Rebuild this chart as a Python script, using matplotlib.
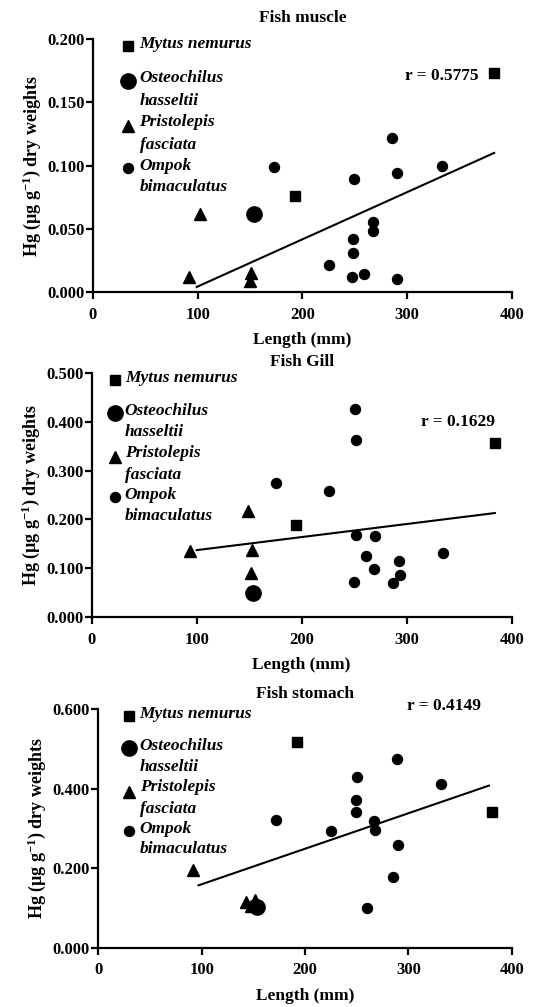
import matplotlib
matplotlib.use('Agg')
import matplotlib.pyplot as plt

plt.rcParams['font.family'] = ['Liberation Serif', 'DejaVu Serif']
plt.rcParams['font.weight'] = 'bold'
plt.rcParams['mathtext.fontset'] = 'custom'
plt.rcParams['mathtext.rm'] = 'Liberation Serif:bold'
plt.rcParams['mathtext.it'] = 'Liberation Serif:italic:bold'
plt.rcParams['mathtext.bf'] = 'Liberation Serif:bold'

# ---- data ----
species = [['Mytus nemurus'], ['Osteochilus', 'hasseltii'],
           ['Pristolepis', 'fasciata'], ['Ompok', 'bimaculatus']]

# Fish muscle
muscle_mytus_x = [383, 193]
muscle_mytus_y = [0.173, 0.076]
muscle_osteo_x = [154]
muscle_osteo_y = [0.062]
muscle_prist_x = [102, 92, 151, 150]
muscle_prist_y = [0.062, 0.012, 0.015, 0.009]
muscle_ompok_x = [173, 249, 285, 290, 333, 267, 267, 248, 248, 225, 259, 247, 290]
muscle_ompok_y = [0.099, 0.089, 0.122, 0.094, 0.100, 0.055, 0.048, 0.042, 0.031, 0.021, 0.014, 0.012, 0.010]
muscle_fit_x = [99, 383]
muscle_fit_y = [0.004, 0.110]

# Fish gill
gill_mytus_x = [384, 195]
gill_mytus_y = [0.357, 0.189]
gill_osteo_x = [154]
gill_osteo_y = [0.049]
gill_prist_x = [94, 149, 153, 152]
gill_prist_y = [0.135, 0.217, 0.137, 0.091]
gill_ompok_x = [251, 252, 176, 226, 252, 270, 261, 269, 293, 294, 287, 250, 335]
gill_ompok_y = [0.427, 0.363, 0.275, 0.259, 0.169, 0.165, 0.126, 0.098, 0.115, 0.086, 0.069, 0.072, 0.132]
gill_fit_x = [100, 384]
gill_fit_y = [0.137, 0.213]

# Fish stomach
stomach_mytus_x = [192, 381]
stomach_mytus_y = [0.517, 0.342]
stomach_osteo_x = [154]
stomach_osteo_y = [0.103]
stomach_prist_x = [92, 143, 152, 148]
stomach_prist_y = [0.195, 0.115, 0.121, 0.104]
stomach_ompok_x = [289, 250, 249, 249, 172, 225, 267, 268, 290, 332, 285, 260]
stomach_ompok_y = [0.476, 0.430, 0.373, 0.342, 0.321, 0.294, 0.320, 0.297, 0.259, 0.413, 0.178, 0.099]
stomach_fit_x = [97, 378]
stomach_fit_y = [0.157, 0.408]

panels = [
    dict(title='Fish muscle', r='r = 0.5775', ymax=0.2, ystep=0.05,
         mytus=(muscle_mytus_x, muscle_mytus_y), osteo=(muscle_osteo_x, muscle_osteo_y),
         prist=(muscle_prist_x, muscle_prist_y), ompok=(muscle_ompok_x, muscle_ompok_y),
         fit=(muscle_fit_x, muscle_fit_y), tpad=12,
         rect=[0.1697, 0.7100, 0.7646, 0.2512], rpos=(0.92, 0.855), legx=(0.084, 0.111)),
    dict(title='Fish Gill', r='r = 0.1629', ymax=0.5, ystep=0.1,
         mytus=(gill_mytus_x, gill_mytus_y), osteo=(gill_osteo_x, gill_osteo_y),
         prist=(gill_prist_x, gill_prist_y), ompok=(gill_ompok_x, gill_ompok_y),
         fit=(gill_fit_x, gill_fit_y), tpad=5,
         rect=[0.1673, 0.3873, 0.7664, 0.2423], rpos=(0.96, 0.80), legx=(0.055, 0.079)),
    dict(title='Fish stomach', r='r = 0.4149', ymax=0.6, ystep=0.2,
         mytus=(stomach_mytus_x, stomach_mytus_y), osteo=(stomach_osteo_x, stomach_osteo_y),
         prist=(stomach_prist_x, stomach_prist_y), ompok=(stomach_ompok_x, stomach_ompok_y),
         fit=(stomach_fit_x, stomach_fit_y), tpad=8.5,
         rect=[0.1794, 0.0589, 0.7543, 0.2367], rpos=(0.925, 1.015), legx=(0.075, 0.10)),
]

fig = plt.figure(figsize=(5.48, 10.07), dpi=100)

# legend layout (axes fraction)
leg_marker_y = [0.973, 0.836, 0.655, 0.49]
leg_line_y = [[0.98], [0.845, 0.757], [0.673, 0.58], [0.50, 0.415]]
leg_styles = [('s', 7.5), ('o', 11), ('^', 8.5), ('o', 7.2)]

for p in panels:
    ax = fig.add_axes(p['rect'])
    ax.plot(*p['mytus'], 's', color='black', ms=7.5, clip_on=False)
    ax.plot(*p['osteo'], 'o', color='black', ms=11, clip_on=False)
    ax.plot(*p['prist'], '^', color='black', ms=8.5, clip_on=False)
    ax.plot(*p['ompok'], 'o', color='black', ms=7.2, clip_on=False)
    ax.plot(*p['fit'], '-', color='black', lw=1.5)

    ax.set_xlim(0, 400)
    ax.set_ylim(0, p['ymax'])
    ax.set_xticks([0, 100, 200, 300, 400])
    yt = [round(i * p['ystep'], 3) for i in range(int(round(p['ymax'] / p['ystep'])) + 1)]
    ax.set_yticks(yt)
    ax.set_yticklabels(['%.3f' % v for v in yt])
    for s in ['top', 'right']:
        ax.spines[s].set_visible(False)
    for s in ['left', 'bottom']:
        ax.spines[s].set_linewidth(1.6)
    ax.tick_params(direction='out', length=5, width=1.6, labelsize=12)
    ax.tick_params(axis='y', pad=1)
    ax.tick_params(axis='x', pad=5.5)
    for lab in ax.get_xticklabels() + ax.get_yticklabels():
        lab.set_fontweight('bold')

    ax.set_title(p['title'], fontsize=12.5, fontweight='bold', pad=p['tpad'])
    ax.set_xlabel('Length (mm)', fontsize=12.5, fontweight='bold', labelpad=7)
    ax.set_ylabel('Hg (µg g$^{-1}$) dry weights', fontsize=13, fontweight='bold', labelpad=3)

    ax.text(p['rpos'][0], p['rpos'][1], p['r'], transform=ax.transAxes,
            ha='right', va='center', fontsize=12.5, fontweight='bold')

    mx, tx = p['legx']
    for lines, my, ly, (mk, ms) in zip(species, leg_marker_y, leg_line_y, leg_styles):
        ax.plot([mx], [my], mk, ms=ms, color='black',
                transform=ax.transAxes, clip_on=False)
        for line, y in zip(lines, ly):
            ax.text(tx, y, line, transform=ax.transAxes, ha='left', va='center',
                    fontsize=12.5, fontweight='bold', fontstyle='italic')

fig.savefig('out.png', dpi=100)
